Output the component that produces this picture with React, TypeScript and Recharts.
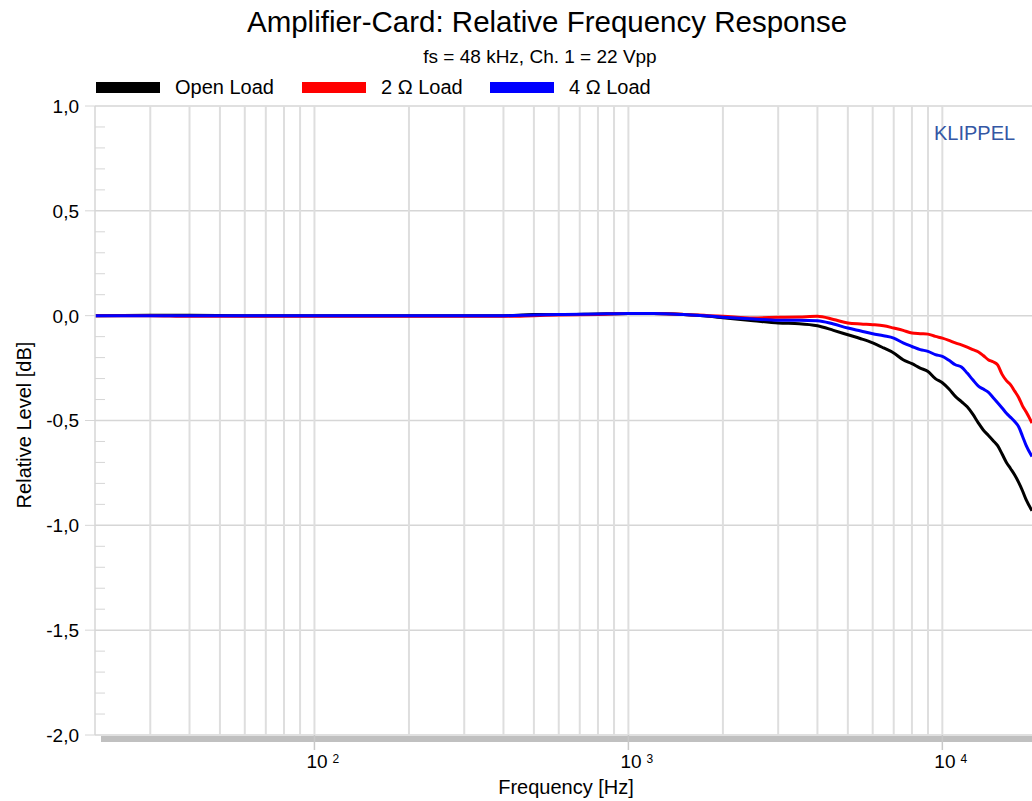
import { LineChart, Line, XAxis, YAxis, ReferenceLine } from "recharts";

const FONT = "'Liberation Sans', Arial, sans-serif";

// frequency points in Hz
const FREQS = [
  20, 30, 40, 60, 100, 150, 200, 300, 400, 500, 600, 800, 1000, 1200, 1500, 1800, 2000, 2500,
  3000, 3500, 4000, 4500, 5000, 5500, 6000, 6500, 7000, 7500, 8000, 8500, 9000, 9500, 10000,
  10500, 11000, 11500, 12000, 12500, 13000, 13500, 14000, 14500, 15000, 15500, 16000, 16500,
  17000, 17500, 18000, 18500, 19300,
];

// relative level in dB
const OPEN_LOAD = [
  0, 0.002, 0.002, 0, 0, 0, 0, 0, 0, 0.005, 0.005, 0.008, 0.01, 0.01, 0.005, -0.003, -0.01, -0.024,
  -0.035, -0.038, -0.048, -0.07, -0.091, -0.11, -0.13, -0.154, -0.178, -0.21, -0.229, -0.25, -0.266,
  -0.3, -0.32, -0.35, -0.385, -0.41, -0.435, -0.47, -0.51, -0.545, -0.57, -0.595, -0.62, -0.66,
  -0.7, -0.73, -0.76, -0.795, -0.835, -0.879, -0.93,
];
const LOAD_2 = [
  0, 0, -0.003, -0.003, -0.003, -0.003, -0.003, -0.003, -0.003, 0, 0.003, 0.006, 0.01, 0.01, 0.006,
  0, -0.003, -0.011, -0.008, -0.006, -0.003, -0.018, -0.035, -0.04, -0.043, -0.048, -0.059, -0.07,
  -0.083, -0.086, -0.088, -0.099, -0.107, -0.118, -0.13, -0.139, -0.15, -0.162, -0.172, -0.19,
  -0.21, -0.22, -0.235, -0.28, -0.31, -0.33, -0.36, -0.39, -0.43, -0.46, -0.512,
];
const LOAD_4 = [
  0, 0, 0, 0, 0, 0, 0, 0, 0, 0.003, 0.005, 0.008, 0.01, 0.01, 0.005, -0.002, -0.007, -0.016,
  -0.022, -0.022, -0.024, -0.04, -0.059, -0.073, -0.086, -0.096, -0.107, -0.13, -0.147, -0.162,
  -0.17, -0.186, -0.194, -0.213, -0.234, -0.245, -0.274, -0.306, -0.335, -0.35, -0.365, -0.39,
  -0.415, -0.44, -0.465, -0.485, -0.505, -0.53, -0.575, -0.62, -0.672,
];

const X_TICKS = [100, 1000, 10000];
const X_GRID = [
  30, 40, 50, 60, 70, 80, 90, 100, 200, 300, 400, 500, 600, 700, 800, 900, 1000, 2000, 3000,
  4000, 5000, 6000, 7000, 8000, 9000, 10000,
];
const Y_MAJOR = [-2, -1.5, -1, -0.5, 0, 0.5, 1];
const Y_TICKS = [
  -2, -1.9, -1.8, -1.7, -1.6, -1.5, -1.4, -1.3, -1.2, -1.1, -1, -0.9, -0.8, -0.7, -0.6, -0.5,
  -0.4, -0.3, -0.2, -0.1, 0, 0.1, 0.2, 0.3, 0.4, 0.5, 0.6, 0.7, 0.8, 0.9, 1,
];

const LEGEND = [
  { name: "Open Load", color: "#000000" },
  { name: "2 Ω Load", color: "#ff0000" },
  { name: "4 Ω Load", color: "#0000ff" },
];

const data = FREQS.map((f, i) => ({
  f,
  open: OPEN_LOAD[i],
  r2: LOAD_2[i],
  r4: LOAD_4[i],
}));

const GRID = "#d6d6d6";
const TICK_SIZE = 10;
const TICK_MARGIN = 6;

function YTick(props: any) {
  const { x, y, payload } = props;
  const v = payload.value as number;
  const major = Y_MAJOR.some((m) => Math.abs(m - v) < 1e-6);
  const axisX = x + TICK_MARGIN + TICK_SIZE;
  if (!major) {
    return <line x1={axisX} x2={axisX + 10} y1={y} y2={y} stroke={GRID} strokeWidth={1} />;
  }
  return (
    <g>
      <line x1={axisX - TICK_SIZE} x2={axisX} y1={y} y2={y} stroke={GRID} strokeWidth={1} />
      <text x={x} y={y} dy="0.36em" textAnchor="end" fontSize={19} fill="#000" fontFamily={FONT}>
        {v.toFixed(1).replace(".", ",")}
      </text>
    </g>
  );
}

function XTick(props: any) {
  const { x, y, payload } = props;
  const exp = Math.round(Math.log10(payload.value));
  return (
    <text x={x - 8} y={y} dy="0.71em" fontSize={19} fill="#000" fontFamily={FONT}>
      10
      <tspan fontSize={12} dx={5} dy={-5}>
        {exp}
      </tspan>
    </text>
  );
}

function AxisBar(props: any) {
  const { x1, x2, y1 } = props;
  return <rect x={x1 + 6} y={y1 + 1} width={x2 - x1 - 6} height={6} fill="#c0c0c0" />;
}

export default function App() {
  return (
    <div
      style={{
        position: "absolute",
        left: 0,
        top: 0,
        width: 1032,
        height: 801,
        background: "#fff",
        fontFamily: FONT,
        overflow: "hidden",
      }}
    >
      <LineChart
        width={1032}
        height={801}
        data={data}
        margin={{ top: 106, right: 0, bottom: 0, left: 0 }}
      >
        {Y_MAJOR.map((v) => (
          <ReferenceLine key={"h" + v} y={v} stroke={GRID} strokeWidth={1.5} />
        ))}
        {X_GRID.map((f) => (
          <ReferenceLine key={"v" + f} x={f} stroke="#dedede" strokeWidth={2} />
        ))}
        <XAxis
          dataKey="f"
          type="number"
          scale="log"
          domain={[20, 19300]}
          allowDataOverflow
          ticks={X_TICKS}
          interval={0}
          height={66}
          tickSize={15}
          tickMargin={5}
          axisLine={false}
          tickLine={{ stroke: "#c8c8c8", strokeWidth: 1.5 }}
          tick={<XTick />}
        />
        <YAxis
          type="number"
          domain={[-2, 1]}
          allowDataOverflow
          ticks={Y_TICKS}
          interval={0}
          width={95}
          tickSize={TICK_SIZE}
          tickMargin={TICK_MARGIN}
          tickLine={false}
          axisLine={{ stroke: GRID, strokeWidth: 1.5 }}
          tick={<YTick />}
        />
        <ReferenceLine y={-2} shape={<AxisBar />} />
        <Line dataKey="open" stroke="#000000" strokeWidth={3} dot={false} type="monotone" isAnimationActive={false} />
        <Line dataKey="r2" stroke="#ff0000" strokeWidth={3} dot={false} type="monotone" isAnimationActive={false} />
        <Line dataKey="r4" stroke="#0000ff" strokeWidth={3} dot={false} type="monotone" isAnimationActive={false} />
      </LineChart>

      <svg
        width={1032}
        height={801}
        style={{ position: "absolute", left: 0, top: 0, pointerEvents: "none" }}
        fontFamily={FONT}
      >
        <text x={547} y={32} textAnchor="middle" fontSize={29.5} fill="#000">
          Amplifier-Card: Relative Frequency Response
        </text>
        <text x={540} y={63} textAnchor="middle" fontSize={19} fill="#000">
          fs = 48 kHz, Ch. 1 = 22 Vpp
        </text>
        {LEGEND.map((item, i) => {
          const x0 = [96, 302, 490][i];
          return (
            <g key={item.name}>
              <rect x={x0} y={82} width={64} height={11} fill={item.color} />
              <text x={x0 + 79} y={94} fontSize={20} fill="#000">
                {item.name}
              </text>
            </g>
          );
        })}
        <text x={934} y={140} fontSize={20} fill="#3457a4">
          KLIPPEL
        </text>
        <text x={566} y={794} textAnchor="middle" fontSize={20} fill="#000">
          Frequency [Hz]
        </text>
        <text
          x={31}
          y={425}
          textAnchor="middle"
          fontSize={20}
          fill="#000"
          transform="rotate(-90 31 425)"
        >
          Relative Level [dB]
        </text>
      </svg>
    </div>
  );
}
